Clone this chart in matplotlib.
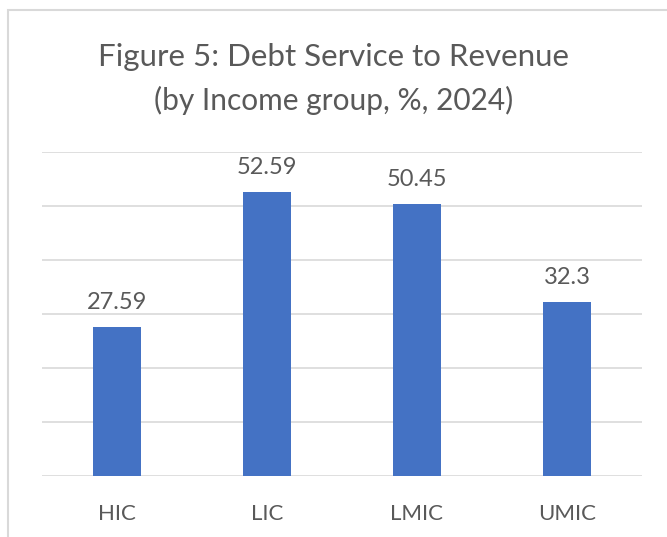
import matplotlib
matplotlib.use("Agg")
import matplotlib.pyplot as plt
from matplotlib.patches import Rectangle

categories = ["HIC", "LIC", "LMIC", "UMIC"]
values = [27.59, 52.59, 50.45, 32.3]
value_labels = ["27.59", "52.59", "50.45", "32.3"]

W, H = 667, 537
fig = plt.figure(figsize=(W/100, H/100), dpi=100)
fig.patch.set_facecolor("white")
font = ["Lato", "DejaVu Sans"]
txt = "#595959"

# outer border (cropped chart frame)
fig.patches.append(Rectangle((8/W, -0.1), 1.2, (H-10)/H + 0.1, transform=fig.transFigure,
                             fill=False, edgecolor="#d9d9d9", linewidth=1.5))

ax = fig.add_axes([42/W, (H-476)/H, 600/W, (476-152)/H])
x = range(len(categories))
ax.bar(x, values, width=0.32, color="#4472C4", zorder=3)
ax.set_xlim(-0.5, len(categories)-0.5)
ax.set_ylim(0, 60)
ax.set_yticks(range(0, 61, 10))
ax.yaxis.grid(True, color="#d9d9d9", linewidth=1.2, zorder=0)
ax.tick_params(axis="y", length=0, labelleft=False)
ax.tick_params(axis="x", length=0, pad=20)
ax.set_xticks(list(x))
ax.set_xticklabels(categories, fontsize=16, color=txt, family=font)
for s in ax.spines.values():
    s.set_visible(False)
for xi, v, lab in zip(x, values, value_labels):
    ax.annotate(lab, (xi, v), xytext=(0, 10), textcoords="offset points",
                ha="center", va="bottom", fontsize=17, color=txt, family=font)

fig.text(0.5, 1 - 57/H, "Figure 5: Debt Service to Revenue", ha="center", va="center",
         fontsize=22.5, color=txt, family=font)
fig.text(0.5, 1 - 100/H, "(by Income group, %, 2024)", ha="center", va="center",
         fontsize=21.5, color=txt, family=font)

fig.savefig("out.png", dpi=100)
